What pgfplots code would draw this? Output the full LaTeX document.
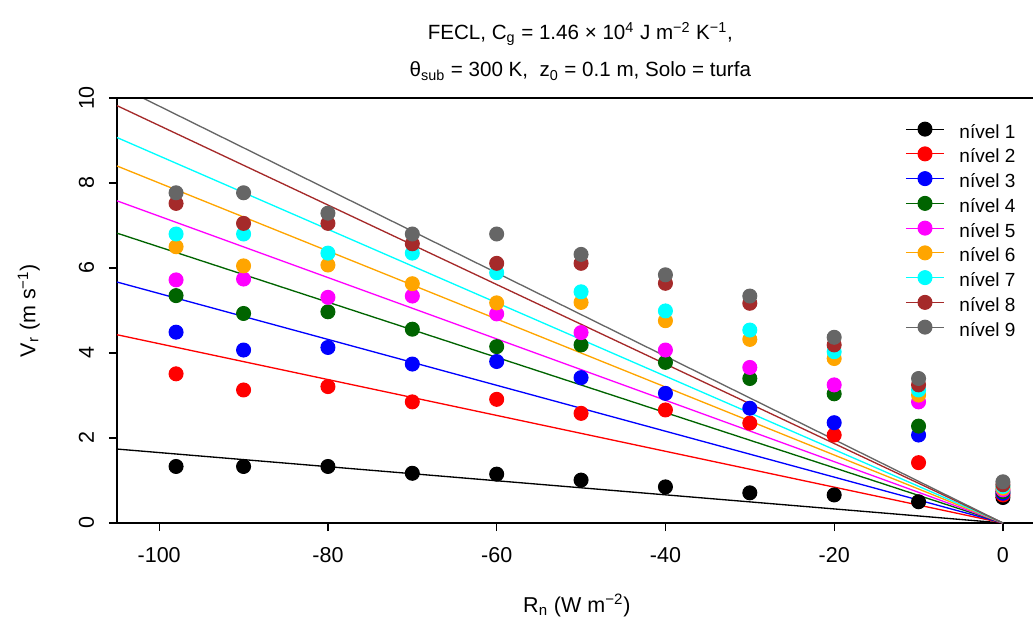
\documentclass[border=0pt]{standalone}
\usepackage{pgfplots}
\pgfplotsset{compat=1.18}
\usepackage{pgfplotstable}
\usepackage{fontspec}
\setmainfont{Liberation Sans}

\definecolor{dgreen}{HTML}{006400}
\definecolor{orng}{HTML}{FFA500}
\definecolor{brwn}{HTML}{A52A2A}
\definecolor{gry}{HTML}{666666}
\definecolor{mgt}{HTML}{FF00FF}
\definecolor{cyn}{HTML}{00FFFF}
\definecolor{rd}{HTML}{FF0000}
\definecolor{bl}{HTML}{0000FF}

\newcommand\fs{\fontsize{12.9pt}{15pt}\selectfont}
\newcommand\lfs{\fontsize{11.4pt}{13pt}\selectfont}
\newcommand\tfs{\fontsize{12.35pt}{14pt}\selectfont}

% V_r por nivel
\pgfplotstableread{
x    n1   n2   n3   n4   n5   n6   n7   n8   n9
-98  1.33 3.51 4.49 5.35 5.72 6.50 6.80 7.52 7.77
-90  1.33 3.13 4.07 4.93 5.74 6.05 6.80 7.05 7.77
-80  1.33 3.21 4.13 4.97 5.31 6.07 6.35 7.05 7.29
-70  1.17 2.85 3.74 4.56 5.34 5.63 6.35 6.57 6.80
-60  1.15 2.91 3.80 4.15 4.92 5.18 5.89 6.11 6.80
-50  1.01 2.58 3.42 4.19 4.48 5.19 5.44 6.11 6.32
-40  0.85 2.66 3.05 3.78 4.07 4.76 4.99 5.64 5.84
-30  0.71 2.35 2.70 3.40 3.66 4.32 4.54 5.17 5.34
-20  0.66 2.07 2.36 3.04 3.25 3.87 4.03 4.19 4.37
-10  0.50 1.42 2.07 2.28 2.85 3.01 3.13 3.25 3.40
0    0.60 0.66 0.70 0.74 0.78 0.82 0.86 0.90 0.97
}\dados

% retas ajustadas (passam pela origem): valor em Rn = -105
\pgfplotstableread{
x     n1   n2   n3   n4   n5   n6   n7   n8   n9
-105  1.74 4.43 5.67 6.82 7.58 8.40 9.07 9.82 10.30
0     0    0    0    0    0    0    0    0    0
}\retas

\pgfplotsset{
  pts/.style={only marks, mark=*, mark size=4.2pt, color=#1, line width=0.6pt},
  fit/.style={color=#1, line width=0.8pt, forget plot},
}

\begin{document}
\begin{tikzpicture}
\begin{axis}[
    scale only axis,
    width=551.8pt, height=255pt,
    xmin=-105, xmax=4, ymin=0, ymax=10,
    axis lines*=left,
    axis line style={line width=1pt},
    xtick={-100,-80,...,0},
    ytick={0,2,...,10},
    tick align=outside,
    major tick length=4.8pt,
    tick style={line width=0.7pt, black},
    /pgf/number format/assume math mode=true,
    tick label style={font=\fs},
    xticklabel style={anchor=base, yshift=-19pt},
    yticklabel style={xshift=-9pt, rotate=90, anchor=base},
    legend style={at={(axis description cs:0.857,0.944)}, anchor=north west,
      draw=none, fill=none, inner sep=0pt, font=\lfs, column sep=9pt,
      nodes={inner sep=0pt, text height=8pt, text depth=5.3pt}},
    legend cell align=left,
    legend image code/.code={\draw[mark repeat=2, mark phase=2, #1, sharp plot, yshift=4pt]
      plot coordinates {(0pt,0pt) (11.4pt,0pt) (22.8pt,0pt)};},
  ]
  \addplot[fit=black]   table[y=n1] {\retas};
  \addplot[fit=rd]      table[y=n2] {\retas};
  \addplot[fit=bl]      table[y=n3] {\retas};
  \addplot[fit=dgreen]  table[y=n4] {\retas};
  \addplot[fit=mgt]     table[y=n5] {\retas};
  \addplot[fit=orng]    table[y=n6] {\retas};
  \addplot[fit=cyn]     table[y=n7] {\retas};
  \addplot[fit=brwn]    table[y=n8] {\retas};
  \addplot[fit=gry]     table[y=n9] {\retas};

  \addplot[pts=black]   table[y=n1] {\dados};
  \addplot[pts=rd]      table[y=n2] {\dados};
  \addplot[pts=bl]      table[y=n3] {\dados};
  \addplot[pts=dgreen]  table[y=n4] {\dados};
  \addplot[pts=mgt]     table[y=n5] {\dados};
  \addplot[pts=orng]    table[y=n6] {\dados};
  \addplot[pts=cyn]     table[y=n7] {\dados};
  \addplot[pts=brwn]    table[y=n8] {\dados};
  \addplot[pts=gry]     table[y=n9] {\dados};
  \legend{nível 1, nível 2, nível 3, nível 4, nível 5, nível 6, nível 7, nível 8, nível 9}
\end{axis}
\draw[line width=1pt] (0pt,255pt) -- (560pt,255pt);
\node[anchor=base, font=\tfs] at (278pt,290pt)
  {FECL, C\textsubscript{g} = 1.46 × 10\textsuperscript{4} J m\textsuperscript{−2} K\textsuperscript{−1},};
\node[anchor=base, font=\tfs] at (278pt,267.6pt)
  {θ\textsubscript{sub} = 300 K,\ \ z\textsubscript{0} = 0.1 m, Solo = turfa};
\node[anchor=base, font=\fs] at (275.9pt,-53.4pt)
  {R\textsubscript{n} (W m\textsuperscript{−2})};
\node[anchor=base, rotate=90, font=\fs] at (-49pt,127.5pt)
  {V\textsubscript{r} (m s\textsuperscript{−1})};
\pgfresetboundingbox
\path[use as bounding box] (-70.2pt,-55.8pt) rectangle (549.6pt,313.8pt);
\end{tikzpicture}
\end{document}
